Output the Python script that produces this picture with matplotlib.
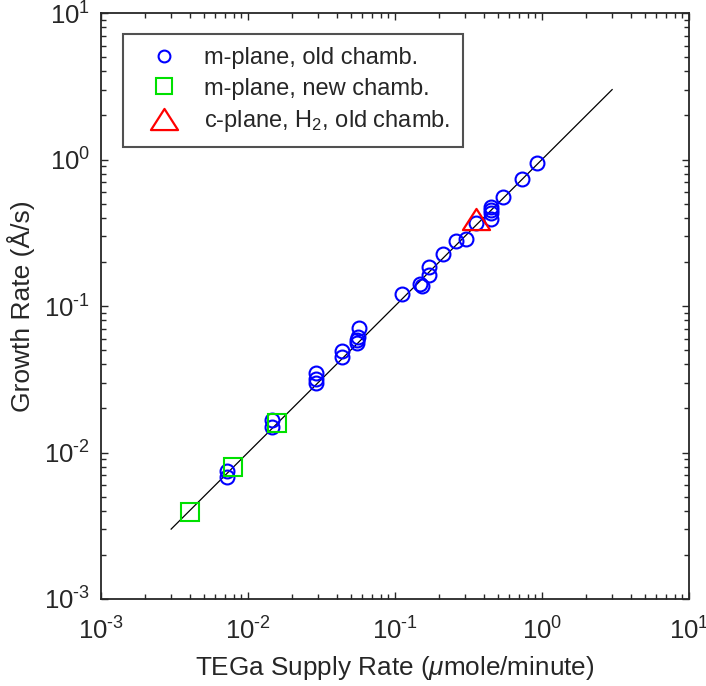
import matplotlib
matplotlib.use("Agg")
import matplotlib.pyplot as plt
from matplotlib.lines import Line2D
from matplotlib.path import Path
from matplotlib.ticker import LogLocator, FixedLocator, FixedFormatter, NullFormatter
import numpy as np

plt.rcParams['font.family'] = ['Liberation Sans', 'DejaVu Sans']
plt.rcParams['mathtext.fontset'] = 'custom'
plt.rcParams['mathtext.rm'] = 'Liberation Sans'
plt.rcParams['mathtext.it'] = 'Liberation Sans:italic'

# m-plane, old chamber
old_x = [0.0072, 0.0072, 0.0145, 0.0145, 0.0289, 0.0289, 0.0289, 0.0434, 0.0434,
         0.0572, 0.0563, 0.0554, 0.0548, 0.111, 0.148, 0.152, 0.170, 0.170, 0.213,
         0.260, 0.303, 0.356, 0.450, 0.450, 0.450, 0.450, 0.540, 0.735, 0.920]
old_y = [0.0075, 0.0068, 0.0166, 0.0150, 0.0351, 0.0318, 0.0297, 0.0495, 0.0447,
         0.0704, 0.0617, 0.0586, 0.0556, 0.121, 0.141, 0.137, 0.185, 0.163, 0.225,
         0.278, 0.287, 0.367, 0.476, 0.452, 0.429, 0.392, 0.557, 0.736, 0.951]
# m-plane, new chamber
new_x = [0.0040, 0.0079, 0.0157]
new_y = [0.0039, 0.0079, 0.0158]
# c-plane, H2, old chamber
c_x = [0.356]
c_y = [0.390]
# reference line
line_x = [0.003, 3]
line_y = [0.003, 3]

labels = ['m-plane, old chamb.', 'm-plane, new chamb.', 'c-plane, H$_{2}$, old chamb.']
xlabel = 'TEGa Supply Rate ($\\mu$mole/minute)'
ylabel = 'Growth Rate (Å/s)'
tick_vals = [1e-3, 1e-2, 1e-1, 1e0, 1e1]
tick_exps = ['\u20103', '\u20102', '\u20101', '0', '1']

tri = Path([(0, 0.78), (-1, -0.78), (1, -0.78), (0, 0.78)],
           [Path.MOVETO, Path.LINETO, Path.LINETO, Path.CLOSEPOLY])

fig = plt.figure(figsize=(7.06, 6.86), dpi=100)
ax = fig.add_axes([101/706, 87/686, 588/706, 586/686])

ax.plot(line_x, line_y, color='black', lw=0.9)
ax.plot(old_x, old_y, 'o', mfc='none', mec='#0000ff', ms=10, mew=1.5, ls='none')
ax.plot(new_x, new_y, 's', mfc='none', mec='#00e000', ms=12.5, mew=1.5, ls='none')
ax.plot(c_x, c_y, marker=tri, mfc='none', mec='#ff0000', ms=19.5, mew=1.6, ls='none')

ax.set_xscale('log')
ax.set_yscale('log')
ax.set_xlim(1e-3, 1e1)
ax.set_ylim(1e-3, 1e1)

ticklabels = ['$\\mathregular{10^{%s}}$' % e for e in tick_exps]
for axis in (ax.xaxis, ax.yaxis):
    axis.set_major_locator(FixedLocator(tick_vals))
    axis.set_major_formatter(FixedFormatter(ticklabels))
    axis.set_minor_locator(LogLocator(base=10, subs=np.arange(2, 10)))
    axis.set_minor_formatter(NullFormatter())

ax.tick_params(which='both', direction='in', top=True, right=True, width=1.0, color='#262626')
ax.tick_params(which='major', length=5)
ax.tick_params(which='minor', length=3.5)
ax.tick_params(axis='x', which='major', labelsize=18.5, pad=13, labelcolor='#262626')
ax.tick_params(axis='y', which='major', labelsize=18.5, pad=8, labelcolor='#262626')
for s in ax.spines.values():
    s.set_linewidth(1.3)
    s.set_color('#262626')

ax.set_xlabel(xlabel, fontsize=18.8, color='#262626', labelpad=7)
ax.set_ylabel(ylabel, fontsize=19, color='#262626', labelpad=6)

handles = [
    Line2D([], [], marker='o', mfc='none', mec='#0000ff', ms=8.5, mew=1.5, ls='none'),
    Line2D([], [], marker='s', mfc='none', mec='#00e000', ms=12, mew=1.5, ls='none'),
    Line2D([], [], marker=tri, mfc='none', mec='#ff0000', ms=19.5, mew=1.6, ls='none'),
]
leg = ax.legend(handles, labels, loc='upper left', bbox_to_anchor=(0.037, 0.964),
                borderaxespad=0, fontsize=17, frameon=True, fancybox=False,
                edgecolor='#262626', handlelength=2.4, handletextpad=0.5,
                labelspacing=0.36, borderpad=0.55)
leg.get_frame().set_linewidth(1.5)
for t in leg.get_texts():
    t.set_color('#262626')

fig.savefig('out.png', dpi=100)
